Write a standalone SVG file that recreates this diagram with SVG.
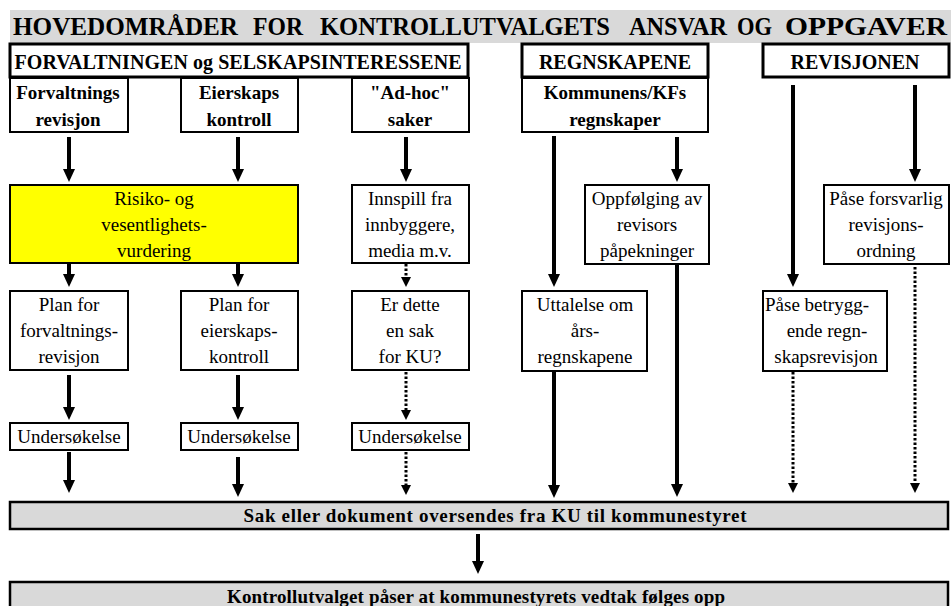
<svg xmlns="http://www.w3.org/2000/svg" width="951" height="606" viewBox="0 0 951 606">
<style>
.bg{fill:#ffffff}
.box{fill:#ffffff;stroke:#000;stroke-width:2}
.hbox{fill:#ffffff;stroke:#000;stroke-width:3}
.yel{fill:#ffff00;stroke:#000;stroke-width:2}
.grey{fill:#d9d9d9;stroke:#000;stroke-width:2.5}
.t{font-family:"Liberation Serif","Times New Roman",serif;font-size:19px;fill:#000;text-anchor:middle}
.b{font-family:"Liberation Serif","Times New Roman",serif;font-size:19px;font-weight:bold;fill:#000;text-anchor:middle}
.h{font-family:"Liberation Serif","Times New Roman",serif;font-size:20px;font-weight:bold;fill:#000;text-anchor:middle}
.title{font-family:"Liberation Serif","Times New Roman",serif;font-size:26px;font-weight:bold;fill:#000}
.s{stroke:#000;stroke-width:4;fill:none}
.d{stroke:#000;stroke-width:3;fill:none;stroke-dasharray:2.5 2}
</style>
<defs>
<marker id="ah" markerUnits="userSpaceOnUse" markerWidth="14" markerHeight="14" refX="0" refY="6" orient="auto" overflow="visible"><path d="M0,0 L13,6 L0,12 z" fill="#000"/></marker>
<marker id="ahd" markerUnits="userSpaceOnUse" markerWidth="12" markerHeight="12" refX="0" refY="5" orient="auto" overflow="visible"><path d="M0,0 L10,5 L0,10 z" fill="#000"/></marker>
</defs>
<rect class="bg" x="0" y="0" width="951" height="606"/>

<g id="title">
<rect x="10" y="10" width="941" height="33" fill="#d9d9d9"/>
<text class="title" x="13" y="35" textLength="225" lengthAdjust="spacingAndGlyphs">HOVEDOMRÅDER</text>
<text class="title" x="253" y="35" textLength="50" lengthAdjust="spacingAndGlyphs">FOR</text>
<text class="title" x="320" y="35" textLength="290" lengthAdjust="spacingAndGlyphs">KONTROLLUTVALGETS</text>
<text class="title" x="629" y="35" textLength="98" lengthAdjust="spacingAndGlyphs">ANSVAR</text>
<text class="title" x="737" y="35" textLength="35" lengthAdjust="spacingAndGlyphs">OG</text>
<text class="title" x="785" y="35" textLength="162" lengthAdjust="spacingAndGlyphs">OPPGAVER</text>
</g>

<g id="hdr-forvaltningen">
<rect class="hbox" x="10" y="44" width="458" height="33"/>
<text class="h" x="238" y="69" textLength="447" lengthAdjust="spacing">FORVALTNINGEN og SELSKAPSINTERESSENE</text>
</g>
<g id="hdr-regnskapene">
<rect class="hbox" x="522" y="44" width="186" height="33"/>
<text class="h" x="615" y="69">REGNSKAPENE</text>
</g>
<g id="hdr-revisjonen">
<rect class="hbox" x="763" y="44" width="186" height="33"/>
<text class="h" x="855" y="69">REVISJONEN</text>
</g>

<g id="forvaltningsrevisjon">
<rect class="box" x="10" y="78" width="118" height="54"/>
<text class="b" x="68" y="99">Forvaltnings</text>
<text class="b" x="68" y="126">revisjon</text>
</g>
<g id="eierskapskontroll">
<rect class="box" x="181" y="78" width="117" height="54"/>
<text class="b" x="239" y="99">Eierskaps</text>
<text class="b" x="239" y="126">kontroll</text>
</g>
<g id="adhoc">
<rect class="box" x="352" y="78" width="117" height="54"/>
<text class="b" x="410" y="99">"Ad-hoc"</text>
<text class="b" x="410" y="126">saker</text>
</g>
<g id="kommunens-regnskaper">
<rect class="box" x="522" y="78" width="186" height="54"/>
<text class="b" x="615" y="99">Kommunens/KFs</text>
<text class="b" x="615" y="126">regnskaper</text>
</g>

<g id="risiko">
<rect class="yel" x="10" y="185" width="288" height="78"/>
<text class="t" x="154" y="205">Risiko- og</text>
<text class="t" x="154" y="231">vesentlighets-</text>
<text class="t" x="154" y="257">vurdering</text>
</g>
<g id="innspill">
<rect class="box" x="352" y="185" width="117" height="78"/>
<text class="t" x="410" y="205">Innspill fra</text>
<text class="t" x="410" y="231">innbyggere,</text>
<text class="t" x="410" y="257">media m.v.</text>
</g>
<g id="oppfolging">
<rect class="box" x="585" y="185" width="124" height="79"/>
<text class="t" x="647" y="205">Oppfølging av</text>
<text class="t" x="647" y="231">revisors</text>
<text class="t" x="647" y="257">påpekninger</text>
</g>
<g id="pase-forsvarlig">
<rect class="box" x="824" y="185" width="125" height="79"/>
<text class="t" x="886" y="205">Påse forsvarlig</text>
<text class="t" x="886" y="231">revisjons-</text>
<text class="t" x="886" y="257">ordning</text>
</g>

<g id="plan-forvaltning">
<rect class="box" x="10" y="291" width="118" height="79"/>
<text class="t" x="69" y="311">Plan for</text>
<text class="t" x="69" y="337">forvaltnings-</text>
<text class="t" x="69" y="363">revisjon</text>
</g>
<g id="plan-eierskap">
<rect class="box" x="181" y="291" width="117" height="79"/>
<text class="t" x="239" y="311">Plan for</text>
<text class="t" x="239" y="337">eierskaps-</text>
<text class="t" x="239" y="363">kontroll</text>
</g>
<g id="er-dette">
<rect class="box" x="352" y="291" width="117" height="79"/>
<text class="t" x="410" y="311">Er dette</text>
<text class="t" x="410" y="337">en sak</text>
<text class="t" x="410" y="363">for KU?</text>
</g>
<g id="uttalelse">
<rect class="box" x="522" y="291" width="125" height="80"/>
<text class="t" x="585" y="311">Uttalelse om</text>
<text class="t" x="585" y="337">års-</text>
<text class="t" x="585" y="363">regnskapene</text>
</g>
<g id="pase-betrygg">
<rect class="box" x="763" y="291" width="124" height="80"/>
<text class="t" x="817" y="311">Påse betrygg-</text>
<text class="t" x="827" y="337">ende regn-</text>
<text class="t" x="826" y="363">skapsrevisjon</text>
</g>

<g id="us1">
<rect class="box" x="10" y="423" width="118" height="27"/>
<text class="t" x="69" y="443">Undersøkelse</text>
</g>
<g id="us2">
<rect class="box" x="181" y="423" width="117" height="27"/>
<text class="t" x="239" y="443">Undersøkelse</text>
</g>
<g id="us3">
<rect class="box" x="352" y="423" width="117" height="27"/>
<text class="t" x="410" y="443">Undersøkelse</text>
</g>

<g id="sak">
<rect class="grey" x="10" y="502" width="938" height="27"/>
<text class="b" x="495" y="522" textLength="503" lengthAdjust="spacing">Sak eller dokument oversendes fra KU til kommunestyret</text>
</g>
<g id="kontroll">
<rect class="grey" x="10" y="582" width="938" height="30"/>
<text class="b" x="476" y="603" textLength="498" lengthAdjust="spacing">Kontrollutvalget påser at kommunestyrets vedtak følges opp</text>
</g>

<g id="connectors">
<line class="s" x1="69" y1="137" x2="69" y2="169" marker-end="url(#ah)"/>
<line class="s" x1="238" y1="137" x2="238" y2="169" marker-end="url(#ah)"/>
<line class="s" x1="406" y1="137" x2="406" y2="169" marker-end="url(#ah)"/>
<line class="s" x1="677" y1="137" x2="677" y2="169" marker-end="url(#ah)"/>
<line class="s" x1="915" y1="85" x2="915" y2="169" marker-end="url(#ah)"/>
<line class="s" x1="554" y1="136" x2="554" y2="274" marker-end="url(#ah)"/>
<line class="s" x1="793" y1="85" x2="793" y2="274" marker-end="url(#ah)"/>
<line class="s" x1="69" y1="264" x2="69" y2="274" marker-end="url(#ah)"/>
<line class="s" x1="238" y1="264" x2="238" y2="274" marker-end="url(#ah)"/>
<line class="s" x1="69" y1="375" x2="69" y2="407" marker-end="url(#ah)"/>
<line class="s" x1="238" y1="375" x2="238" y2="407" marker-end="url(#ah)"/>
<line class="s" x1="69" y1="452" x2="69" y2="480" marker-end="url(#ah)"/>
<line class="s" x1="238" y1="457" x2="238" y2="484" marker-end="url(#ah)"/>
<line class="s" x1="554" y1="372" x2="554" y2="485" marker-end="url(#ah)"/>
<line class="s" x1="677" y1="264" x2="677" y2="484" marker-end="url(#ah)"/>
<line class="s" x1="478" y1="534" x2="478" y2="561" marker-end="url(#ah)"/>
<line class="d" x1="406" y1="264" x2="406" y2="277" marker-end="url(#ahd)"/>
<line class="d" x1="406" y1="372" x2="406" y2="410" marker-end="url(#ahd)"/>
<line class="d" x1="406" y1="452" x2="406" y2="485" marker-end="url(#ahd)"/>
<line class="d" x1="793" y1="372" x2="793" y2="483" marker-end="url(#ahd)"/>
<line class="d" x1="915" y1="267" x2="915" y2="483" marker-end="url(#ahd)"/>
</g>
</svg>
